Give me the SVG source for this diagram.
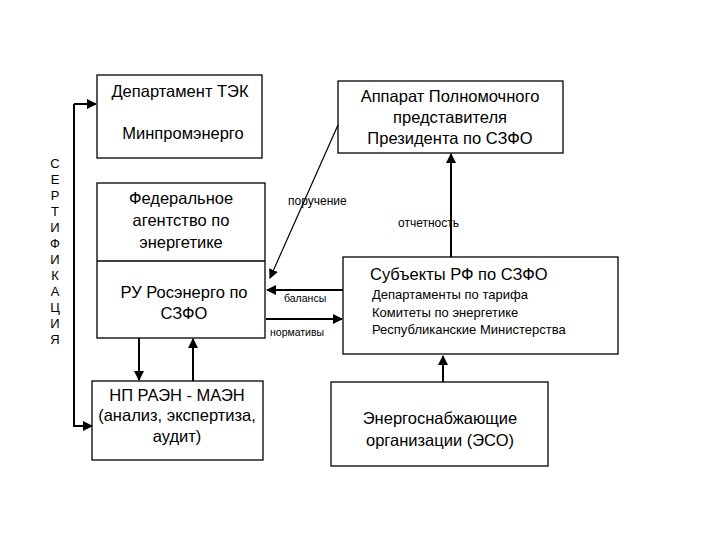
<svg xmlns="http://www.w3.org/2000/svg" width="720" height="540" viewBox="0 0 720 540">
<style>
text{font-family:"Liberation Sans",Arial,sans-serif;fill:#000}
.b{fill:#fff;stroke:#000;stroke-width:1.3}
.c{stroke:#000;stroke-width:2;fill:none}
.t{font-size:16.5px;text-anchor:middle}
.s{font-size:12px}
.m{font-size:13px}
</style>
<defs><marker id="a" viewBox="0 0 10 10" refX="9" refY="5" markerWidth="5" markerHeight="5" orient="auto"><path d="M0,0L10,5L0,10z" fill="#000"/></marker>
<marker id="a2" viewBox="0 0 10 10" refX="9" refY="5" markerWidth="8" markerHeight="8" orient="auto"><path d="M0,0L10,5L0,10z" fill="#000"/></marker></defs>
<rect width="720" height="540" fill="#fff"/>
<g id="dept"><rect class="b" x="97" y="75" width="165" height="83"/><text class="t" x="180" y="97">Департамент ТЭК</text><text class="t" x="183" y="139">Минпромэнерго</text></g>
<g id="apparat"><rect class="b" x="338" y="81" width="225" height="72"/><text class="t" x="450" y="102">Аппарат Полномочного</text><text class="t" x="450" y="123">представителя</text><text class="t" x="450" y="144">Президента по СЗФО</text></g>
<g id="fed"><rect class="b" x="97" y="183" width="168" height="155"/><line x1="97" y1="261" x2="265" y2="261" stroke="#000" stroke-width="1.3"/><text class="t" x="181" y="204">Федеральное</text><text class="t" x="181" y="226">агентство по</text><text class="t" x="181" y="248">энергетике</text><text class="t" x="184" y="298">РУ Росэнерго по</text><text class="t" x="184" y="319">СЗФО</text></g>
<g id="subj"><rect class="b" x="343" y="257" width="275" height="97"/><text x="370" y="280" style="font-size:16.5px">Субъекты РФ по СЗФО</text><text class="m" x="372" y="299">Департаменты по тарифа</text><text class="m" x="372" y="317">Комитеты по энергетике</text><text class="m" x="372" y="334">Республиканские Министерства</text></g>
<g id="np"><rect class="b" x="92" y="381" width="171" height="79"/><text class="t" x="177" y="401">НП РАЭН - МАЭН</text><text class="t" x="177" y="421">(анализ, экспертиза,</text><text class="t" x="177" y="442">аудит)</text></g>
<g id="eso"><rect class="b" x="331" y="382" width="217" height="84"/><text class="t" x="440" y="424">Энергоснабжающие</text><text class="t" x="440" y="446">организации (ЭСО)</text></g>
<g id="cert" style="font-size:13px" text-anchor="middle"><text x="55" y="168">С</text><text x="55" y="184">Е</text><text x="55" y="200">Р</text><text x="55" y="216">Т</text><text x="55" y="232">И</text><text x="55" y="248">Ф</text><text x="55" y="264">И</text><text x="55" y="280">К</text><text x="55" y="296">А</text><text x="55" y="312">Ц</text><text x="55" y="328">И</text><text x="55" y="344">Я</text></g>
<g id="connectors">
<path class="c" d="M74,104V426H92" marker-end="url(#a)"/>
<line class="c" x1="74" y1="104" x2="96" y2="104" marker-end="url(#a)"/>
<line x1="338" y1="125" x2="270" y2="278" stroke="#000" stroke-width="1.2" marker-end="url(#a2)"/>
<line class="c" x1="343" y1="290" x2="267" y2="290" marker-end="url(#a)"/>
<line class="c" x1="266" y1="319" x2="342" y2="319" marker-end="url(#a)"/>
<line class="c" x1="139" y1="338" x2="139" y2="380" marker-end="url(#a)"/>
<line class="c" x1="193" y1="381" x2="193" y2="339" marker-end="url(#a)"/>
<line class="c" x1="451" y1="257" x2="451" y2="154" marker-end="url(#a)"/>
<line class="c" x1="443" y1="382" x2="443" y2="356" marker-end="url(#a)"/>
<text class="s" x="288" y="205">поручение</text>
<text class="s" x="398" y="227">отчетность</text>
<text style="font-size:10.5px" x="284" y="302">балансы</text>
<text style="font-size:10.5px" x="270" y="336">нормативы</text>
</g>
</svg>
